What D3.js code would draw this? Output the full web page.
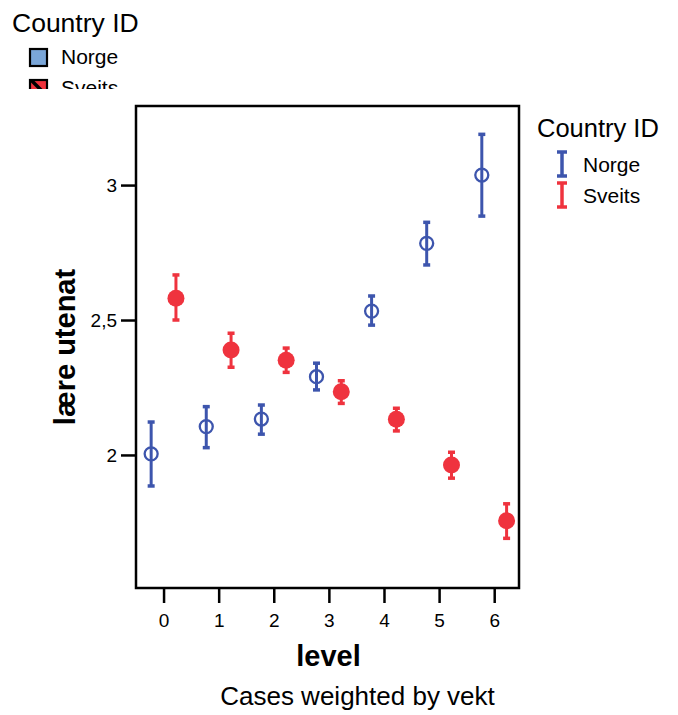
<!DOCTYPE html>
<html>
<head>
<meta charset="utf-8">
<script src="https://cdn.jsdelivr.net/npm/d3@7"></script>
<style>
  html, body { margin: 0; padding: 0; background: #fff; }
  svg { display: block; font-family: "Liberation Sans", Arial, sans-serif; }
</style>
</head>
<body>
<svg id="chart" width="678" height="715"></svg>
<script>
// Mean "lære utenat" by level, with error bars, for each country
const levels = [0, 1, 2, 3, 4, 5, 6];
const seriesNames = ["Norge", "Sveits"];
const norgeMean = [2.004, 2.105, 2.133, 2.290, 2.533, 2.784, 3.037];
const norgeLow  = [1.885, 2.027, 2.077, 2.241, 2.481, 2.704, 2.885];
const norgeHigh = [2.122, 2.179, 2.185, 2.340, 2.589, 2.862, 3.188];
const sveitsMean = [2.581, 2.389, 2.351, 2.234, 2.132, 1.963, 1.756];
const sveitsLow  = [2.500, 2.325, 2.306, 2.191, 2.089, 1.914, 1.691];
const sveitsHigh = [2.667, 2.451, 2.396, 2.275, 2.173, 2.010, 1.819];
const yTicks = [2, 2.5, 3];
const yTickLabels = ["2", "2,5", "3"];

const colors = { Norge: "#3d55ad", Sveits: "#ef333e" };

const svg = d3.select("#chart");
const frame = { left: 136, right: 519, top: 106, bottom: 588 };

const x = d3.scaleLinear().domain([-0.5, 6.45]).range([frame.left, frame.right]);
const y = d3.scaleLinear().domain([1.507, 3.293]).range([frame.bottom, frame.top]);
const offset = 0.225; // horizontal dodge between the two countries

// Axes
const yAxis = d3.axisLeft(y).tickValues(yTicks)
  .tickFormat((d, i) => yTickLabels[i]).tickSize(15).tickPadding(4);
const xAxis = d3.axisBottom(x).tickValues(levels)
  .tickFormat(d3.format("d")).tickSize(15).tickPadding(11);

const gy = svg.append("g").attr("transform", `translate(${frame.left},0)`).call(yAxis);
const gx = svg.append("g").attr("transform", `translate(0,${frame.bottom})`).call(xAxis);
[gx, gy].forEach(g => {
  g.attr("font-size", 19).attr("font-family", "Liberation Sans, Arial, sans-serif");
  g.select(".domain").remove();
  g.selectAll(".tick line").attr("stroke", "#000").attr("stroke-width", 2.5);
  g.selectAll(".tick text").attr("fill", "#000").attr("font-size", 19);
});

// Plot frame
svg.append("rect")
  .attr("x", frame.left).attr("y", frame.top)
  .attr("width", frame.right - frame.left).attr("height", frame.bottom - frame.top)
  .attr("fill", "none").attr("stroke", "#000").attr("stroke-width", 2.5);

// Build point records
const rows = [];
levels.forEach((lv, i) => {
  rows.push({ s: "Norge", lv, m: norgeMean[i], lo: norgeLow[i], hi: norgeHigh[i], dx: -offset });
  rows.push({ s: "Sveits", lv, m: sveitsMean[i], lo: sveitsLow[i], hi: sveitsHigh[i], dx: offset });
});

const marks = svg.append("g");
const grp = marks.selectAll("g.pt").data(rows).join("g").attr("class", "pt");

grp.append("line")
  .attr("x1", d => x(d.lv + d.dx)).attr("x2", d => x(d.lv + d.dx))
  .attr("y1", d => y(d.lo)).attr("y2", d => y(d.hi))
  .attr("stroke", d => colors[d.s]).attr("stroke-width", 3);
["lo", "hi"].forEach(k => {
  grp.append("line")
    .attr("x1", d => x(d.lv + d.dx) - 3.5).attr("x2", d => x(d.lv + d.dx) + 3.5)
    .attr("y1", d => y(d[k])).attr("y2", d => y(d[k]))
    .attr("stroke", d => colors[d.s]).attr("stroke-width", 3.5);
});
grp.append("circle")
  .attr("cx", d => x(d.lv + d.dx)).attr("cy", d => y(d.m))
  .attr("r", d => d.s === "Norge" ? 6.5 : 8.5)
  .attr("fill", d => d.s === "Norge" ? "none" : colors[d.s])
  .attr("stroke", d => d.s === "Norge" ? colors[d.s] : "none")
  .attr("stroke-width", 2.3);

// Axis titles
svg.append("text")
  .attr("transform", `translate(75,${(frame.top + frame.bottom) / 2}) rotate(-90)`)
  .attr("text-anchor", "middle").style("font-size", "29px").style("font-weight", "bold")
  .text("lære utenat");
svg.append("text")
  .attr("x", 328.5).attr("y", 666).attr("text-anchor", "middle")
  .style("font-size", "29px").style("font-weight", "bold").text("level");
svg.append("text")
  .attr("x", 357.5).attr("y", 705).attr("text-anchor", "middle")
  .style("font-size", "26px").text("Cases weighted by vekt");

// Right-hand legend with error-bar icons
const rl = svg.append("g");
rl.append("text").attr("x", 537).attr("y", 137).style("font-size", "25.5px").text("Country ID");
seriesNames.forEach((s, i) => {
  const cy = 164 + i * 31;
  const ix = 562;
  rl.append("line").attr("x1", ix).attr("x2", ix).attr("y1", cy - 12).attr("y2", cy + 12)
    .attr("stroke", colors[s]).attr("stroke-width", 3.5);
  [cy - 12, cy + 12].forEach(yy => rl.append("line")
    .attr("x1", ix - 5).attr("x2", ix + 5).attr("y1", yy).attr("y2", yy)
    .attr("stroke", colors[s]).attr("stroke-width", 3.5));
  rl.append("text").attr("x", 583).attr("y", cy + 8).style("font-size", "21px").text(s);
});

// Top-left legend with swatches, clipped at its lower edge
const defs = svg.append("defs");
defs.append("clipPath").attr("id", "tlclip")
  .append("rect").attr("x", 0).attr("y", 0).attr("width", 200).attr("height", 89);
const pat = defs.append("pattern").attr("id", "hatch").attr("patternUnits", "userSpaceOnUse")
  .attr("x", 30).attr("y", 79).attr("width", 18).attr("height", 18);
pat.append("rect").attr("width", 18).attr("height", 18).attr("fill", "#f0323c");
pat.append("path").attr("d", "M0,0 L18,18").attr("stroke", "#000").attr("stroke-width", 3.5);

const tl = svg.append("g").attr("clip-path", "url(#tlclip)");
tl.append("text").attr("x", 12).attr("y", 32).style("font-size", "26.5px").text("Country ID");
const swatchFill = ["#7aa6d8", "url(#hatch)"];
seriesNames.forEach((s, i) => {
  const top = 49 + i * 31;
  tl.append("rect").attr("x", 30).attr("y", top).attr("width", 17).attr("height", 17)
    .attr("fill", swatchFill[i]).attr("stroke", "#000").attr("stroke-width", 2.2);
  tl.append("text").attr("x", 61).attr("y", top + 15).style("font-size", "21px").text(s);
});
</script>
</body>
</html>
